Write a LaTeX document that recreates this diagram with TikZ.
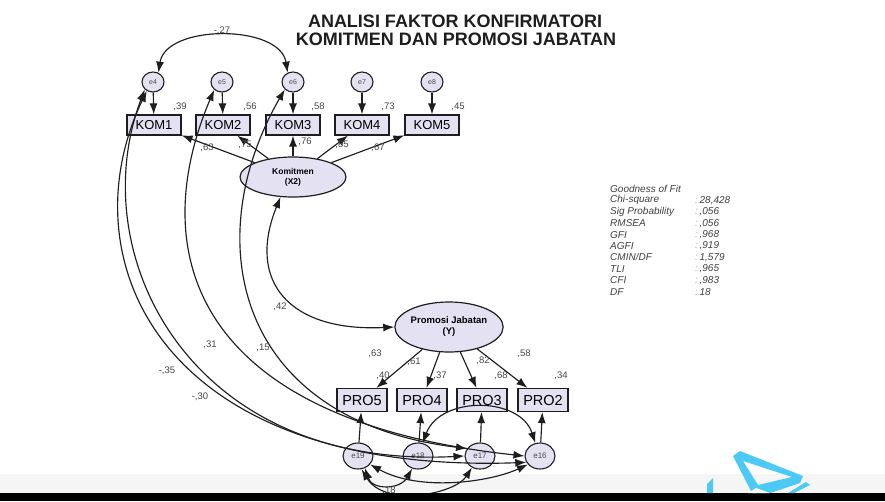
\documentclass[tikz,border=0pt]{standalone}
\usepackage{fontspec}
\setmainfont{Liberation Sans}
\usetikzlibrary{shapes.geometric,arrows.meta}
\definecolor{nodefill}{RGB}{228,226,242}
\definecolor{ink}{RGB}{30,30,30}
\definecolor{numc}{RGB}{70,70,70}
\definecolor{logo}{RGB}{77,201,246}
\newcommand{\gofrow}[4]{%
  \node[gof] (g#1) at (610,{189+11.4*#1}) {#2};
  \node[gof] (v#1) at (695,{189+11.4*#1}) {\textcolor{black!35}{#3}\,#4};}
\begin{document}
\begin{tikzpicture}[x=1pt,y=-1pt,
  every node/.style={inner sep=0pt},
  errtop/.style={ellipse,draw=ink,line width=1.1pt,fill=nodefill,minimum width=22pt,minimum height=20pt,font=\fontsize{7}{7}\selectfont,text=ink!80},
  errbot/.style={errtop,minimum width=30pt,minimum height=26pt,font=\fontsize{8}{8}\selectfont},
  obsbox/.style={rectangle,draw=ink,line width=1.2pt,fill=nodefill,minimum width=54pt,minimum height=20pt,font=\fontsize{13}{13}\selectfont},
  probox/.style={obsbox,minimum width=50pt,minimum height=23pt,font=\fontsize{14.5}{14.5}\selectfont},
  latnode/.style={ellipse,draw=ink,line width=1.2pt,fill=nodefill,align=center},
  regline/.style={-{Latex[length=11pt,width=8pt]},line width=1.15pt,draw=ink},
  covar/.style={{Latex[length=11pt,width=8pt]}-{Latex[length=11pt,width=8pt]},line width=1.15pt,draw=ink},
  est/.style={font=\fontsize{9.5}{9.5}\selectfont,text=numc},
  gof/.style={anchor=west,font=\itshape\fontsize{10}{10}\selectfont,text=black!75},
  title/.style={font=\bfseries\fontsize{18}{18}\selectfont,text=ink}
]
\useasboundingbox (0,0) rectangle (885,501);
\fill[white] (0,0) rectangle (885,501);
% faint band above the bottom bar
\fill[black!4] (0,474) rectangle (885,493);

% title
\node[title] (t1) at (455,21.5) {ANALISI FAKTOR KONFIRMATORI};
\node[title] (t2) at (456,39) {KOMITMEN DAN PROMOSI JABATAN};

% Komitmen indicators
\node[errtop] (e4) at (153,82) {e4};
\node[errtop] (e5) at (222,82) {e5};
\node[errtop] (e6) at (293,82) {e6};
\node[errtop] (e7) at (362,82) {e7};
\node[errtop] (e8) at (432,82) {e8};
\node[obsbox] (k1) at (154,125) {KOM1};
\node[obsbox] (k2) at (223,125) {KOM2};
\node[obsbox] (k3) at (293,125) {KOM3};
\node[obsbox] (k4) at (362,125) {KOM4};
\node[obsbox] (k5) at (432,125) {KOM5};
\node[latnode,minimum width=106pt,minimum height=40pt,font=\bfseries\fontsize{8.5}{10}\selectfont] (kom) at (293,177) {Komitmen\\(X2)};

% Promosi indicators
\node[latnode,minimum width=90pt,minimum height=50pt,font=\bfseries\fontsize{9.5}{11}\selectfont] (pro) at (449,327) {Promosi Jabatan\\(Y)};
\node[probox] (p5) at (362,400) {PRO5};
\node[probox] (p4) at (422,400) {PRO4};
\node[probox] (p3) at (482,400) {PRO3};
\node[probox] (p2) at (543,400) {PRO2};
\node[errbot] (e19) at (358,456) {e19};
\node[errbot] (e18) at (418,456) {e18};
\node[errbot] (e17) at (480,456) {e17};
\node[errbot] (e16) at (540,456) {e16};

% measurement paths
\foreach \e/\k in {e4/k1,e5/k2,e6/k3,e7/k4,e8/k5} \draw[regline] (\e) -- (\k);
\foreach \k in {k1,k2,k3,k4,k5} \draw[regline] (kom) -- (\k);
\foreach \p in {p5,p4,p3,p2} \draw[regline] (pro) -- (\p);
\foreach \e/\p in {e19/p5,e18/p4,e17/p3,e16/p2} \draw[regline] (\e) -- (\p);

% correlated errors and factors
\draw[covar] (e4.60) .. controls (166,24) and (280,24) .. (e6.120);
\draw[covar] (kom.238) .. controls (246,282) and (290,332) .. (pro.west);
\draw[covar] (e4.235) .. controls (66,260) and (160,475) .. (e16.205);
\draw[covar] (e4.222) .. controls (82,255) and (190,470) .. (e17.180);
\draw[covar] (e5.225) .. controls (146,250) and (190,420) .. (e16.180);
\draw[covar] (e6.222) .. controls (198,240) and (235,420) .. (e17.150);
\draw[covar] (e18.70) .. controls (440,396) and (520,396) .. (e16.110);
\draw[covar] (e19.300) .. controls (372,490) and (400,490) .. (e18.245);
\draw[covar] (e19.285) .. controls (385,508) and (455,494) .. (e17.235);
\draw[covar] (e19.325) .. controls (420,492) and (490,482) .. (e16.215);

% estimates
\node[est] (c27) at (222,31) {-,27};
\node[est] (r1) at (180,107) {,39};
\node[est] (r2) at (250,107) {,56};
\node[est] (r3) at (318,107) {,58};
\node[est] (r4) at (388,107) {,73};
\node[est] (r5) at (458,107) {,45};
\node[est] (l1) at (207,148) {,63};
\node[est] (l2) at (245,145) {,75};
\node[est] (l3) at (305,142) {,76};
\node[est] (l4) at (342,145) {,85};
\node[est] (l5) at (378,148) {,67};
\node[est] (c42) at (280,307) {,42};
\node[est] (c31) at (210,345) {,31};
\node[est] (c15) at (263,348) {,15};
\node[est] (c35) at (167,371) {-,35};
\node[est] (c30) at (200,397) {-,30};
\node[est] (m5) at (375,354) {,63};
\node[est] (m4) at (414,362) {,61};
\node[est] (m3) at (483,361) {,82};
\node[est] (m2) at (524,354) {,58};
\node[est] (s5) at (383,376) {,40};
\node[est] (s4) at (440,376) {,37};
\node[est] (s3) at (501,376) {,68};
\node[est] (s2) at (561,376) {,34};
\node[est] (c18) at (389,491) {,18};

% goodness of fit summary
\node[gof] (g0) at (610,189) {Goodness of Fit};
\gofrow{1}{Chi-square}{:}{28,428}
\gofrow{2}{Sig Probability}{:}{,056}
\gofrow{3}{RMSEA}{:}{,056}
\gofrow{4}{GFI}{:}{,968}
\gofrow{5}{AGFI}{:}{,919}
\gofrow{6}{CMIN/DF}{:}{1,579}
\gofrow{7}{TLI}{:}{,965}
\gofrow{8}{CFI}{:}{,983}
\gofrow{9}{DF}{:}{18}

% bottom bar and mark
\fill[black] (0,493) rectangle (885,501);
\fill[logo,even odd rule] (733,456) -- (740,451) -- (803,476) -- (800,483) -- (770,493) -- (752,493) -- cycle
  (743,461) -- (792,477) -- (758,485) -- cycle;
\fill[white] (748,493) -- (756,488) -- (770,493) -- cycle;
\fill[logo] (806,482) -- (810,485) -- (794,493) -- (788,493) -- cycle;
\fill[logo] (707,484) -- (713,478) -- (713,493) -- (707,493) -- cycle;
\end{tikzpicture}
\end{document}
